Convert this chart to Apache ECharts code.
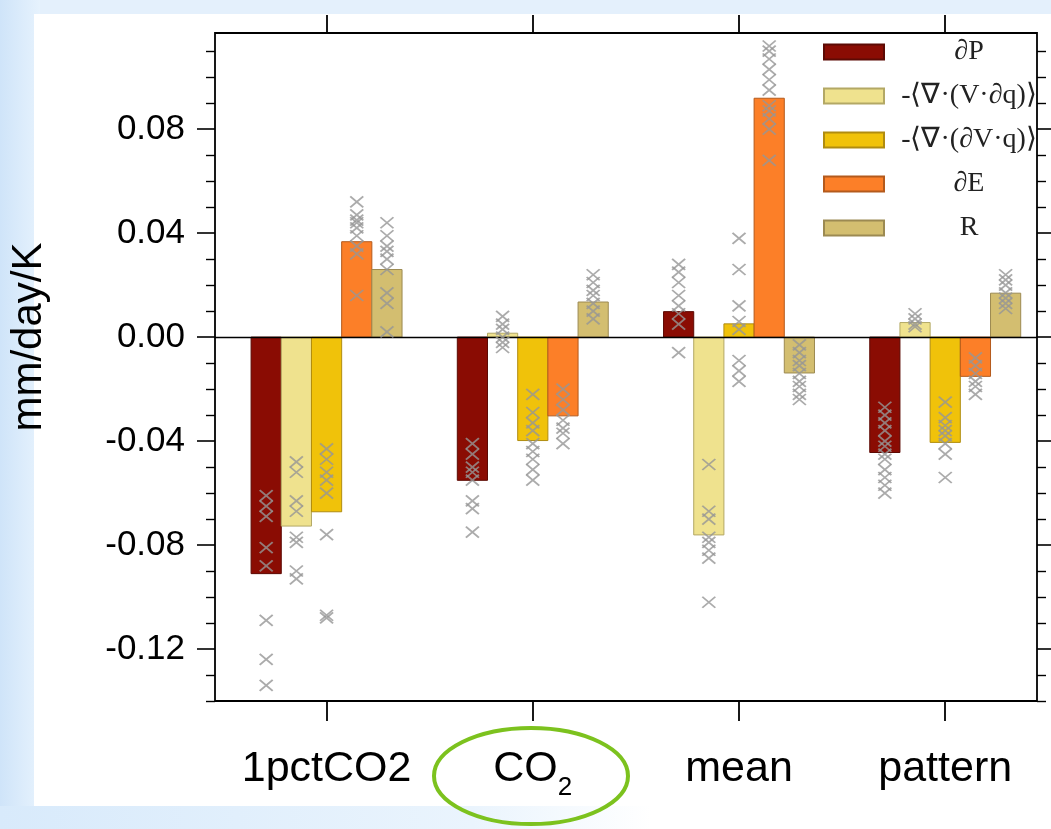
<!DOCTYPE html>
<html>
<head>
<meta charset="utf-8">
<script src="https://cdn.jsdelivr.net/npm/echarts@6/dist/echarts.min.js"></script>
<style>
html,body{margin:0;padding:0;background:#e4f0fc;}
#chart{width:1051px;height:829px;}
</style>
</head>
<body>
<div id="chart"></div>
<script>
// ---- data ----
const categories = ['1pctCO2', 'CO2', 'mean', 'pattern'];
const seriesNames = ['∂P', '-⟨∇·(V·∂q)⟩', '-⟨∇·(∂V·q)⟩', '∂E', 'R'];
const seriesColors = ['#8a0c03', '#efe28e', '#f0c20a', '#fc7f28', '#d3be70'];

// multi-model mean bars (mm/day/K)
const dP    = [-0.0910, -0.0551,  0.0098, -0.0444];
const dqAdv = [-0.0727,  0.0015, -0.0761,  0.0056];
const dvAdv = [-0.0672, -0.0398,  0.0051, -0.0405];
const dE    = [ 0.0367, -0.0303,  0.0919, -0.0151];
const R     = [ 0.0260,  0.0135, -0.0138,  0.0169];

// individual models (crosses), one list per category
const dPModels = [
  [-0.061, -0.065, -0.069, -0.081, -0.088, -0.109, -0.124, -0.134],
  [-0.041, -0.045, -0.050, -0.052, -0.055, -0.063, -0.066, -0.075],
  [0.028, 0.025, 0.021, 0.016, 0.012, 0.009, 0.005, -0.006],
  [-0.027, -0.030, -0.033, -0.036, -0.040, -0.042, -0.045, -0.047, -0.051, -0.054, -0.057, -0.060]
];
const dqAdvModels = [
  [-0.048, -0.052, -0.063, -0.067, -0.077, -0.079, -0.090, -0.093],
  [0.008, 0.005, 0.003, 0.000, -0.002, -0.004],
  [-0.049, -0.067, -0.070, -0.077, -0.079, -0.082, -0.085, -0.102],
  [0.009, 0.007, 0.005, 0.004]
];
const dvAdvModels = [
  [-0.043, -0.047, -0.052, -0.055, -0.060, -0.076, -0.107, -0.108],
  [-0.022, -0.029, -0.033, -0.036, -0.041, -0.044, -0.047, -0.051, -0.055],
  [0.038, 0.026, 0.012, 0.006, 0.003, -0.009, -0.013, -0.017],
  [-0.025, -0.031, -0.034, -0.036, -0.038, -0.041, -0.045, -0.054]
];
const dEModels = [
  [0.052, 0.047, 0.045, 0.044, 0.042, 0.039, 0.035, 0.032, 0.016],
  [-0.020, -0.024, -0.028, -0.032, -0.035, -0.037, -0.041],
  [0.112, 0.110, 0.107, 0.103, 0.099, 0.095, 0.089, 0.087, 0.084, 0.080, 0.068],
  [-0.008, -0.011, -0.014, -0.017, -0.019, -0.022]
];
const RModels = [
  [0.044, 0.039, 0.035, 0.033, 0.030, 0.026, 0.017, 0.013, 0.002],
  [0.024, 0.021, 0.018, 0.016, 0.013, 0.010, 0.007],
  [-0.003, -0.006, -0.009, -0.011, -0.014, -0.017, -0.019, -0.022, -0.024],
  [0.024, 0.022, 0.020, 0.017, 0.015, 0.013, 0.011]
];

// tick labels
const yMajorTicks = [-0.12, -0.08, -0.04, 0.00, 0.04, 0.08];
const yMinorTicks = [-0.14, -0.13, -0.11, -0.10, -0.09, -0.07, -0.06, -0.05, -0.03, -0.02, -0.01,
                     0.01, 0.02, 0.03, 0.05, 0.06, 0.07, 0.09, 0.10, 0.11];

// ---- layout ----
const barValues = [dP, dqAdv, dvAdv, dE, R];
const modelValues = [dPModels, dqAdvModels, dvAdvModels, dEModels, RModels];
const catIdx = categories.map((_, i) => i);
const barW = 0.1464;
const xMin = -0.541, xMax = 3.445;
const yMin = -0.14, yMax = 0.117;
const sansFont = 'Liberation Sans, Arial, Helvetica, sans-serif';
const serifFont = 'Liberation Serif, Times New Roman, serif';
const borderCols = ['#5c0a04', '#b3a865', '#b08c10', '#b45a1c', '#9c8a52'];

function barRender(offset) {
  return function (params, api) {
    const x = api.value(0) + offset;
    const v = api.value(1);
    const a = api.coord([x - barW / 2, v]);
    const b = api.coord([x + barW / 2, 0]);
    return {
      type: 'rect',
      shape: { x: a[0], y: Math.min(a[1], b[1]), width: b[0] - a[0], height: Math.abs(b[1] - a[1]) },
      style: api.style()
    };
  };
}

const series = [];
barValues.forEach((vals, s) => {
  const offset = (s - 2) * barW;
  const ser = {
    type: 'custom',
    name: seriesNames[s],
    xAxisIndex: 0, yAxisIndex: 0,
    renderItem: barRender(offset),
    encode: { x: 0, y: 1 },
    itemStyle: { color: seriesColors[s], borderColor: borderCols[s], borderWidth: 1 },
    data: vals.map((v, i) => [catIdx[i], v]),
    z: 2,
    silent: true
  };
  if (s === 0) {
    ser.markLine = {
      silent: true, symbol: ['none', 'none'],
      label: { show: false },
      lineStyle: { color: '#000', width: 1.4, type: 'solid' },
      data: [{ yAxis: 0 }],
      z: 5
    };
  }
  series.push(ser);
});
modelValues.forEach((groups, s) => {
  const offset = (s - 2) * barW;
  const pts = [];
  groups.forEach((list, i) => list.forEach(m => pts.push([catIdx[i] + offset, m])));
  series.push({
    type: 'scatter',
    name: 'models' + s,
    xAxisIndex: 0, yAxisIndex: 0,
    symbol: 'path://M0,0L10,10M10,0L0,10',
    symbolSize: [13, 11],
    itemStyle: { color: 'rgba(0,0,0,0)', borderColor: '#969696', borderWidth: 1.8 },
    data: pts,
    z: 6,
    silent: true
  });
});

const noLine = { show: false, onZero: false };
const chart = echarts.init(document.getElementById('chart'), null, { renderer: 'canvas' });
chart.setOption({
  backgroundColor: '#e4f0fc',
  animation: false,
  graphic: [
    { type: 'rect', z: -20, shape: { x: 0, y: 0, width: 40, height: 829 },
      style: { fill: new echarts.graphic.LinearGradient(0, 0, 1, 0, [{ offset: 0, color: '#cfe4f9' }, { offset: 1, color: '#e6f2fd' }]) } },
    { type: 'rect', z: -19, shape: { x: 34, y: 14, width: 1017, height: 792 }, style: { fill: '#ffffff' } },
    { type: 'rect', z: -19, shape: { x: 0, y: 806, width: 1051, height: 23 },
      style: { fill: new echarts.graphic.LinearGradient(0, 0, 1, 0, [{ offset: 0, color: '#d8eafb' }, { offset: 0.45, color: '#eaf4fd' }, { offset: 0.62, color: '#ffffff' }, { offset: 1, color: '#ffffff' }]) } },
    { type: 'ellipse', z: 10, shape: { cx: 531, cy: 776, rx: 97, ry: 48 },
      style: { fill: 'none', stroke: '#7cc21e', lineWidth: 4 } }
  ],
  grid: { left: 212, right: 14, top: 33, bottom: 128, show: true, borderColor: '#000', borderWidth: 1.8, backgroundColor: 'rgba(0,0,0,0)' },
  legend: {
    data: seriesNames,
    orient: 'vertical',
    left: 823, top: 38, padding: 0,
    itemWidth: 60, itemHeight: 15, itemGap: 16,
    icon: 'rect',
    selectedMode: false,
    formatter: n => '{c|' + n + '}',
    textStyle: {
      rich: { c: { width: 160, align: 'center', fontFamily: serifFont, fontSize: 28, lineHeight: 28, color: '#222' } }
    }
  },
  xAxis: [
    { type: 'value', min: xMin, max: xMax, position: 'bottom',
      axisLine: noLine, splitLine: { show: false },
      axisTick: { show: true, customValues: catIdx, length: 20, lineStyle: { color: '#000', width: 1.8 } },
      axisLabel: {
        customValues: catIdx, margin: 57,
        formatter: v => {
          const name = categories[Math.round(v)];
          if (name === 'CO2') return '{n|CO}{s|2}';
          return '{n|' + name + '}';
        },
        rich: {
          n: { fontFamily: sansFont, fontSize: 43, lineHeight: 43, color: '#000', padding: [0, 0, 10, 0], verticalAlign: 'bottom' },
          s: { fontFamily: sansFont, fontSize: 26, lineHeight: 26, color: '#000', verticalAlign: 'bottom' }
        }
      }
    },
    { type: 'value', min: xMin, max: xMax, position: 'top',
      axisLine: noLine, splitLine: { show: false },
      axisTick: { show: true, customValues: catIdx, length: 18, lineStyle: { color: '#000', width: 1.8 } },
      axisLabel: { show: false }
    }
  ],
  yAxis: [
    { type: 'value', min: yMin, max: yMax, position: 'left', offset: 0,
      axisLine: noLine, splitLine: { show: false },
      axisTick: { show: true, customValues: yMajorTicks, length: 18, lineStyle: { color: '#000', width: 1.6 } },
      axisLabel: { customValues: yMajorTicks, margin: 30, formatter: v => (Math.abs(v) < 1e-9 ? 0 : v).toFixed(2),
        fontFamily: sansFont, fontSize: 35, color: '#000' },
      name: 'mm/day/K', nameLocation: 'middle', nameGap: 165,
      nameTextStyle: { fontFamily: sansFont, fontSize: 42, color: '#000', padding: [0, 0, 0, 60] }
    },
    { type: 'value', min: yMin, max: yMax, position: 'left', offset: 0,
      axisLine: noLine, splitLine: { show: false },
      axisTick: { show: true, customValues: yMinorTicks, length: 9, lineStyle: { color: '#000', width: 1.4 } },
      axisLabel: { show: false }
    },
    { type: 'value', min: yMin, max: yMax, position: 'right', offset: 0,
      axisLine: noLine, splitLine: { show: false },
      axisTick: { show: true, customValues: yMajorTicks, length: 18, lineStyle: { color: '#000', width: 1.6 } },
      axisLabel: { show: false }
    },
    { type: 'value', min: yMin, max: yMax, position: 'right', offset: 0,
      axisLine: noLine, splitLine: { show: false },
      axisTick: { show: true, customValues: yMinorTicks, length: 9, lineStyle: { color: '#000', width: 1.4 } },
      axisLabel: { show: false }
    }
  ],
  series: series
});
</script>
</body>
</html>
